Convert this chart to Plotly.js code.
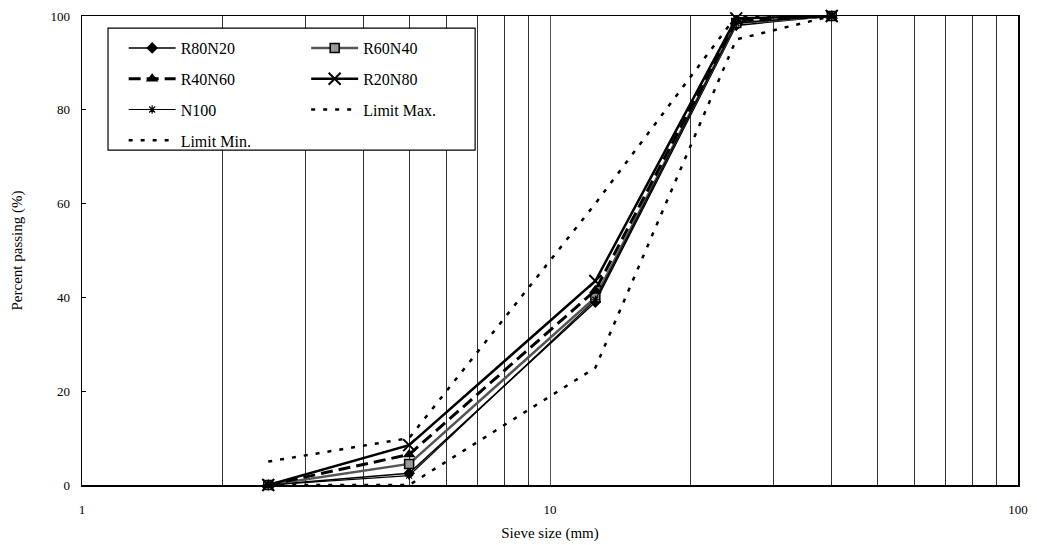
<!DOCTYPE html>
<html>
<head>
<meta charset="utf-8">
<script src="https://cdn.plot.ly/plotly-3.0.1.min.js"></script>
<style>html,body{margin:0;padding:0;background:#fff;}#chart{width:1037px;height:545px;}</style>
</head>
<body>
<div id="chart"></div>
<script>
// Sieve sizes (mm)
var sieves = [2.5, 5, 12.5, 25, 40];
// Percent passing for each mix
var r80n20 = [0, 2.5, 39, 98, 100];
var r60n40 = [0, 4.5, 40, 98.5, 100];
var r40n60 = [0, 6.5, 41.5, 99, 100];
var r20n80 = [0, 8.5, 43.5, 99.5, 100];
var n100   = [0, 2, 39.5, 98.5, 100];
// Grading envelope
var limitMax = [5, 10, 60, 100, 100];
var limitMin = [0, 0, 25, 95, 100];

var xTickVals = [1, 10, 100];
var xTickText = ['1', '10', '100'];
var minorGrid = [2,3,4,5,6,7,8,9,20,30,40,50,60,70,80,90];

var serif = 'Liberation Serif';

function tr(name, y, legend, group, line, marker) {
  return {
    type: 'scatter', mode: marker ? 'lines+markers' : 'lines',
    x: sieves, y: y, name: name, legend: legend, legendgroup: group,
    line: line, marker: marker || {}, cliponaxis: false
  };
}

var traces = [
  tr('R80N20', r80n20, 'legend', 'a', {color:'#000', width:1.5}, {symbol:'diamond', size:9, color:'#000'}),
  tr('R60N40', r60n40, 'legend2', 'b', {color:'#555', width:2.5}, {symbol:'square', size:9, color:'#999', line:{color:'#000', width:1.5}}),
  tr('R40N60', r40n60, 'legend', 'c', {color:'#000', width:3, dash:'12px,6px'}, {symbol:'triangle-up', size:11, color:'#000'}),
  tr('R20N80', r20n80, 'legend2', 'd', {color:'#000', width:2.5}, {symbol:'x-thin-open', size:12, color:'#000', line:{color:'#000', width:2}}),
  tr('N100', n100, 'legend', 'e', {color:'#000', width:1.2}, {symbol:'asterisk-open', size:7, color:'#000', line:{color:'#000', width:1.2}}),
  tr('Limit Max.', limitMax, 'legend2', 'f', {color:'#000', width:2.5, dash:'4px,8px'}),
  tr('Limit Min.', limitMin, 'legend', 'g', {color:'#000', width:2.5, dash:'4px,8px'})
];

var legendCommon = {
  bgcolor: 'rgba(0,0,0,0)', borderwidth: 0,
  font: {family: serif, size: 16, color: '#000'},
  xanchor: 'left', yanchor: 'top', itemwidth: 47, tracegroupgap: 7, itemclick: false
};

var layout = {
  width: 1037, height: 545,
  margin: {l: 82, r: 19, t: 16, b: 60},
  paper_bgcolor: '#fff', plot_bgcolor: '#fff',
  font: {family: serif, color: '#000', size: 13},
  showlegend: true,
  xaxis: {
    type: 'log', range: [0, 2],
    tickvals: xTickVals, ticktext: xTickText,
    showgrid: true, gridcolor: '#555', gridwidth: 1,
    minor: {tickvals: minorGrid, showgrid: true, gridcolor: '#333', gridwidth: 1, ticks: ''},
    ticks: '', showline: true, mirror: true, linecolor: '#000', linewidth: 1.5,
    ticklabelstandoff: 12, zeroline: false,
    tickfont: {family: serif, size: 13, color: '#000'},
    title: {text: 'Sieve size (mm)', font: {family: serif, size: 15, color: '#000'}, standoff: 11}
  },
  yaxis: {
    range: [0, 100], dtick: 20, showgrid: false, zeroline: false,
    ticks: 'inside', ticklen: 4, tickcolor: '#000',
    showline: true, mirror: true, linecolor: '#000', linewidth: 1.5,
    ticklabelstandoff: 8,
    tickfont: {family: serif, size: 13, color: '#000'},
    title: {text: 'Percent passing (%)', font: {family: serif, size: 15, color: '#000'}, standoff: 24}
  },
  legend: Object.assign({}, legendCommon, {x: 0.0445, y: 0.968}),
  legend2: Object.assign({}, legendCommon, {x: 0.2395, y: 0.968}),
  shapes: [{
    type: 'rect', xref: 'paper', yref: 'paper',
    x0: 0.0278, x1: 0.42, y0: 0.714, y1: 0.974,
    fillcolor: '#fff', line: {color: '#000', width: 1.2}, layer: 'above'
  }]
};

Plotly.newPlot('chart', traces, layout, {displayModeBar: false, staticPlot: true});
</script>
</body>
</html>
